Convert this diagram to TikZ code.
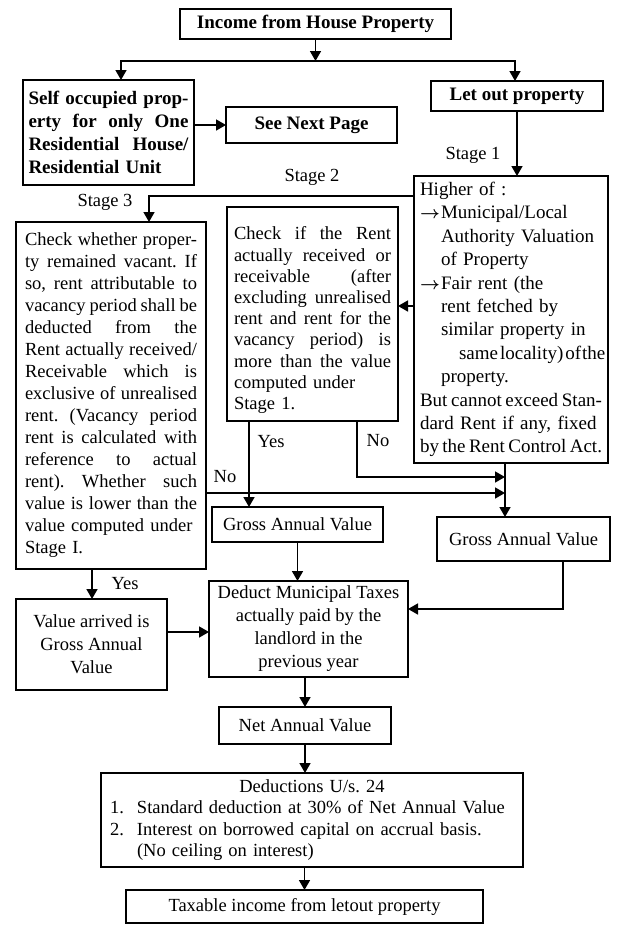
\documentclass[tikz,border=0pt]{standalone}
\usepackage{fontspec}
\setmainfont{Liberation Serif}
\usetikzlibrary{arrows.meta,calc}
\newcommand\jlin[1]{\hbox to \hsize{\spaceskip=.25em plus 1fil minus .09em\relax #1}\par}
\newcommand\rlin[1]{\hbox to \hsize{#1\hfil}\par}
\newcommand\clin[1]{\hbox to \hsize{\hfil #1\hfil}\par}
\newcommand\hiarrow{\makebox[21pt][l]{\boldmath$\rightarrow$}}
\begin{document}
\frenchspacing
\begin{tikzpicture}[x=1pt,y=-1pt,
  box/.style={draw, line width=1.6pt, inner sep=0pt, outer sep=0pt},
  arr/.style={line width=1.6pt, -{Triangle[length=10pt,width=11pt]}},
  bigf/.style={font=\fontsize{19}{23}\selectfont\bfseries},
  tf/.style={font=\fontsize{18.5}{21.2}\selectfont},
  tfc/.style={font=\fontsize{18.5}{23}\selectfont},
  tfs/.style={font=\fontsize{18.5}{22}\selectfont},
  hf/.style={font=\fontsize{19}{23.4}\selectfont},
  lbl/.style={font=\fontsize{18.5}{22}\selectfont, inner sep=0pt}
]
\fill[white] (0,0) rectangle (620,937);
\useasboundingbox (0,0) rectangle (620,937);

% boxes
\node[box,bigf,minimum width=271pt,minimum height=30pt] (title) at (315.5,24) {Income from House Property};
\node[box,bigf,text width=160pt,minimum width=171pt,minimum height=105pt] (self) at (108.5,132.5)
  {\jlin{Self occupied prop-}
   \jlin{erty for only One}
   \jlin{Residential House/}
   \rlin{Residential Unit}};
\node[box,bigf,minimum width=171pt,minimum height=36pt] (next) at (311.5,125) {See Next Page};
\node[box,bigf,minimum width=172pt,minimum height=30pt] (letout) at (517,96) {Let out property};

\node[box,hf,text width=182pt,minimum width=194pt,minimum height=287pt] (higher) at (511,319.5)
  {\rlin{Higher of :}
   \rlin{\hiarrow Municipal/Local}
   \rlin{\hspace*{21pt}Authority Valuation}
   \rlin{\hspace*{21pt}of Property}
   \rlin{\hiarrow Fair rent (the}
   \rlin{\hspace*{21pt}rent fetched by}
   \rlin{\hspace*{21pt}similar property in}
   \jlin{\hspace*{39pt}same\hspace{2pt}locality)\hspace{2pt}of\hspace{1pt}the}
   \rlin{\hspace*{21pt}property.}
   \jlin{But cannot exceed Stan-}
   \rlin{dard Rent if any, fixed}
   \jlin{by the Rent Control Act.}};

\node[box,tf,text width=157pt,minimum width=171pt,minimum height=214pt] (s2) at (312.5,314)
  {\par\kern4pt
   \jlin{Check if the Rent}
   \jlin{actually received or}
   \jlin{receivable (after}
   \jlin{excluding unrealised}
   \jlin{rent and rent for the}
   \jlin{vacancy period) is}
   \jlin{more than the value}
   \rlin{computed under}
   \rlin{Stage 1.}};

\node[box,tfs,text width=172pt,minimum width=190pt,minimum height=347pt] (s3) at (111,395.5)
  {\jlin{Check whether proper-}
   \jlin{ty remained vacant. If}
   \jlin{so, rent attributable to}
   \jlin{vacancy period shall be}
   \jlin{deducted from the}
   \jlin{Rent actually received/}
   \jlin{Receivable which is}
   \jlin{exclusive of unrealised}
   \jlin{rent. (Vacancy period}
   \jlin{rent is calculated with}
   \jlin{reference to actual}
   \jlin{rent). Whether such}
   \jlin{value is lower than the}
   \rlin{value computed under}
   \rlin{Stage I.}};

\node[box,tf,minimum width=171pt,minimum height=35pt] (gav1) at (297.5,524.5) {Gross Annual Value};
\node[box,tf,minimum width=173pt,minimum height=44pt] (gav2) at (523.5,539) {Gross Annual Value};
\node[box,tfc,align=center,minimum width=151pt,minimum height=91pt] (value) at (91.5,644.5) {Value arrived is\\Gross Annual\\Value};
\node[box,tfc,align=center,minimum width=199pt,minimum height=96pt] (deduct) at (308.5,629) {Deduct Municipal Taxes\\actually paid by the\\landlord in the\\previous year};
\node[box,tf,minimum width=172pt,minimum height=37pt] (net) at (305,725.5) {Net Annual Value};
\node[box,tf,text width=404pt,minimum width=422pt,minimum height=94pt] (ded) at (312,820)
  {\clin{Deductions U/s. 24}
   \rlin{\makebox[27pt][l]{1.}Standard deduction at 30\% of Net Annual Value}
   \rlin{\makebox[27pt][l]{2.}Interest on borrowed capital on accrual basis.}
   \rlin{\hspace*{27pt}(No ceiling on interest)}};
\node[box,tf,minimum width=357pt,minimum height=33pt] (tax) at (304.5,906.5) {Taxable income from letout property};

% labels
\node[lbl] (st1) at (473,155) {Stage 1};
\node[lbl] (st2) at (312,177) {Stage 2};
\node[lbl] (st3) at (105,202) {Stage 3};
\node[lbl] (yes1) at (271,442) {Yes};
\node[lbl] (no1) at (378,441) {No};
\node[lbl] (no2) at (225,477) {No};
\node[lbl] (yes2) at (125,584) {Yes};

% connectors
\coordinate (split) at ([yshift=-22pt]title.south);
\draw[arr] (title.south) -- (split);
\draw[arr] (split) -| ([xshift=98pt]self.north west);
\draw[arr] (split) -| ([xshift=-2pt]letout.north);
\draw[arr] (self.east |- next.west) -- (next.west);
\draw[arr] (letout.south) -- (letout.south |- higher.north);
\draw[arr] ([yshift=-20pt]higher.north west) -| ([xshift=133pt]s3.north west);
\coordinate (h2) at ([yshift=-130pt]higher.north west);
\draw[arr] (h2) -- (h2 -| s2.east);
\coordinate (hv) at ([xshift=91pt]higher.south west);
\draw[arr] (hv) -- (hv |- gav2.north);
\coordinate (n1) at ([yshift=-14pt]hv);
\coordinate (n2) at ([yshift=-30pt]hv);
\draw[arr] ([xshift=130pt]s2.south west) |- (n1);
\draw[arr] (s3.east |- n2) -- (n2);
\coordinate (y1) at ([xshift=22pt]s2.south west);
\draw[arr] (y1) -- (y1 |- gav1.north);
\draw[arr] (gav1.south) -- (gav1.south |- deduct.north);
\coordinate (g2) at ([xshift=126pt]gav2.south west);
\draw[arr] (g2) |- ([yshift=-28pt]deduct.north east);
\coordinate (y3) at ([xshift=76pt]s3.south west);
\draw[arr] (y3) -- (y3 |- value.north);
\coordinate (v1) at ([yshift=-33pt]value.north east);
\draw[arr] (v1) -- (v1 -| deduct.west);
\draw[arr] (net.north |- deduct.south) -- (net.north);
\draw[arr] (net.south) -- (net.south |- ded.north);
\draw[arr] (tax.north |- ded.south) -- (tax.north);
\end{tikzpicture}
\end{document}
